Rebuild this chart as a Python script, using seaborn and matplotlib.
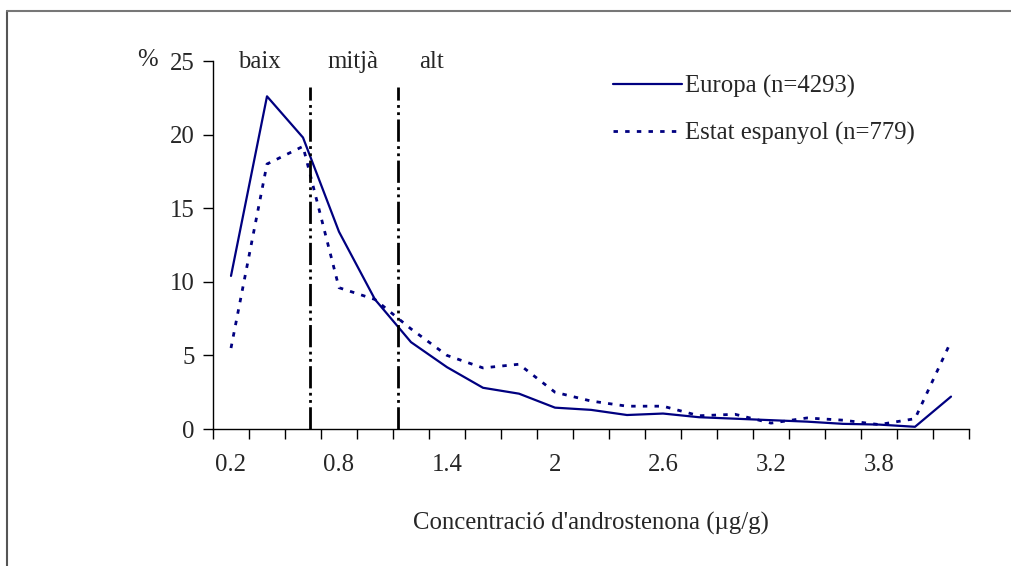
import numpy as np
import pandas as pd
import matplotlib
matplotlib.use("Agg")
import matplotlib.pyplot as plt
from matplotlib.lines import Line2D
import seaborn as sns

# Concentration classes (µg/g)
concentracio = [0.2, 0.4, 0.6, 0.8, 1.0, 1.2, 1.4, 1.6, 1.8, 2.0, 2.2,
                2.4, 2.6, 2.8, 3.0, 3.2, 3.4, 3.6, 3.8, 4.0, 4.2]
tick_labels = ["0.2", "0.8", "1.4", "2", "2.6", "3.2", "3.8"]

# Percentage of samples in each class
europa = [10.4, 22.6, 19.8, 13.4, 8.8, 5.9, 4.2, 2.8, 2.4, 1.45, 1.3,
          0.95, 1.05, 0.8, 0.7, 0.6, 0.5, 0.35, 0.3, 0.15, 2.2]
espanya = [5.5, 18.0, 19.2, 9.6, 8.8, 6.8, 5.0, 4.15, 4.4, 2.5, 1.9,
           1.55, 1.55, 0.9, 1.0, 0.4, 0.75, 0.6, 0.3, 0.7, 5.95]

# Boundaries between the low / medium / high classes (µg/g)
limits = [0.64, 1.13]
classes = ["baix", "mitjà", "alt"]

sns.set_theme(style="white")
plt.rcParams["font.family"] = ["Liberation Serif", "DejaVu Serif"]
FS = 17.8

df = pd.DataFrame({
    "pos": np.arange(len(concentracio)),
    "Europa (n=4293)": europa,
    "Estat espanyol (n=779)": espanya,
})

fig = plt.figure(figsize=(10.12, 5.66), dpi=100)
ax = fig.add_axes([213 / 1012, 1 - 429 / 566, (969 - 213) / 1012, (429 - 61) / 566])

navy = "#000080"
sns.lineplot(data=df, x="pos", y="Europa (n=4293)", ax=ax, color=navy,
             lw=1.6, legend=False)
sns.lineplot(data=df, x="pos", y="Estat espanyol (n=779)", ax=ax, color=navy,
             lw=2.0, linestyle=(0, (1.6, 2.6)), legend=False)

# Class boundaries
def to_pos(v):
    return (v - concentracio[0]) / (concentracio[1] - concentracio[0])

for lim in limits:
    ax.plot([to_pos(lim)] * 2, [0, 23.2], color="black", lw=2.0,
            linestyle=(0, (8, 1.6, 1, 1.6, 1, 1.6)))

for name, xp in zip(classes, [0.78, 3.38, 5.56]):
    ax.text(xp, 24.9, name, ha="center", va="center", fontsize=FS)

n = len(concentracio)
ax.set_xlim(-0.5, n - 0.5)
ax.set_ylim(0, 25)
ax.set_yticks([0, 5, 10, 15, 20, 25])
ax.set_xticks(np.arange(0, n, 3))
ax.set_xticklabels(tick_labels)
ax.set_xticks(np.arange(-0.5, n, 1), minor=True)
ax.tick_params(axis="x", which="major", length=0, pad=18, labelsize=FS)
ax.tick_params(axis="x", which="minor", length=7, width=1.0, color="black",
               direction="out", bottom=True)
ax.tick_params(axis="y", which="major", length=7, width=1.0, color="black",
               direction="out", left=True, pad=6, labelsize=FS)
for side in ["top", "right"]:
    ax.spines[side].set_visible(False)
for side in ["left", "bottom"]:
    ax.spines[side].set_color("black")
    ax.spines[side].set_linewidth(1.0)
ax.set_xlabel("Concentració d'androstenona (µg/g)", fontsize=FS, labelpad=26)
ax.set_ylabel("")
ax.grid(False)

fig.text(147 / 1012, 1 - 60 / 566, "%", ha="center", va="center", fontsize=FS)

handles = [
    Line2D([], [], color=navy, lw=1.6),
    Line2D([], [], color=navy, lw=2.0, linestyle=(0, (1.6, 2.6))),
]
fig.legend(handles, ["Europa (n=4293)", "Estat espanyol (n=779)"],
           loc="upper left", bbox_to_anchor=(613 / 1012, 1 - 75 / 566),
           frameon=False, fontsize=FS, handlelength=2.8, handletextpad=0.12,
           labelspacing=0.95, borderpad=0, borderaxespad=0)

# Outer frame (top and left edges)
fig.add_artist(Line2D([7 / 1012, 7 / 1012], [0, 1 - 11 / 566],
                      transform=fig.transFigure, color="#555555", lw=1.5))
fig.add_artist(Line2D([7 / 1012, 1], [1 - 11 / 566, 1 - 11 / 566],
                      transform=fig.transFigure, color="#777777", lw=1.5))

fig.savefig("out.png", dpi=100, facecolor="white")
